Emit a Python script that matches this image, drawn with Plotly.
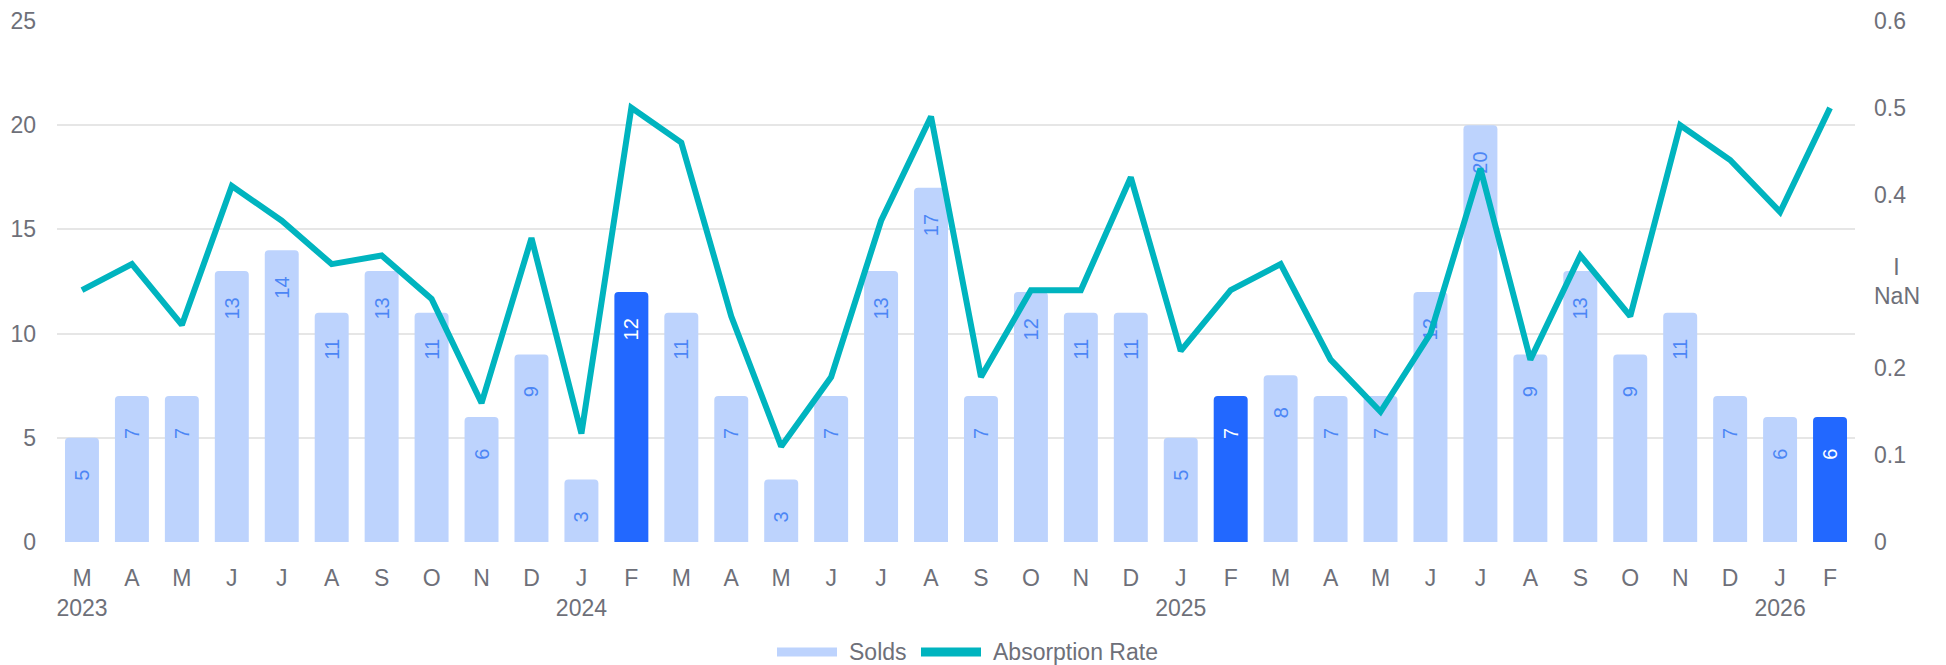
import plotly.graph_objects as go

# ---- data ----
month_letters = ["M", "A", "M", "J", "J", "A", "S", "O", "N", "D",
                 "J", "F", "M", "A", "M", "J", "J", "A", "S", "O", "N", "D",
                 "J", "F", "M", "A", "M", "J", "J", "A", "S", "O", "N", "D",
                 "J", "F"]
month_keys = ["2023-03", "2023-04", "2023-05", "2023-06", "2023-07", "2023-08",
              "2023-09", "2023-10", "2023-11", "2023-12", "2024-01", "2024-02",
              "2024-03", "2024-04", "2024-05", "2024-06", "2024-07", "2024-08",
              "2024-09", "2024-10", "2024-11", "2024-12", "2025-01", "2025-02",
              "2025-03", "2025-04", "2025-05", "2025-06", "2025-07", "2025-08",
              "2025-09", "2025-10", "2025-11", "2025-12", "2026-01", "2026-02"]
year_labels = {"2023-03": "2023", "2024-01": "2024", "2025-01": "2025", "2026-01": "2026"}

solds = [5, 7, 7, 13, 14, 11, 13, 11, 6, 9, 3, 12,
         11, 7, 3, 7, 13, 17, 7, 12, 11, 11, 5, 7,
         8, 7, 7, 12, 20, 9, 13, 9, 11, 7, 6, 6]
highlight = [k.endswith("-02") for k in month_keys]

absorption_rate = [0.29, 0.32, 0.25, 0.41, 0.37, 0.32, 0.33, 0.28, 0.16, 0.35, 0.125, 0.50,
                   0.46, 0.26, 0.11, 0.19, 0.37, 0.49, 0.19, 0.29, 0.29, 0.42, 0.22, 0.29,
                   0.32, 0.21, 0.15, 0.24, 0.43, 0.21, 0.33, 0.26, 0.48, 0.44, 0.38, 0.50]

left_ticks = [0, 5, 10, 15, 20, 25]
right_ticks = [0, 0.1, 0.2, 0.3, 0.4, 0.5, 0.6]
right_ticktext = ["0", "0.1", "0.2", "\u00a0\u00a0\u00a0I<br>NaN", "0.4", "0.5", "0.6"]

# ---- style ----
LIGHT = "#BDD3FD"
DARK = "#2268FF"
LABEL_LIGHT = "#4C86F5"
TEAL = "#00B4BF"
AXIS_TXT = "#6E7079"
FONT = "Liberation Sans, Arial, sans-serif"
NB = "\u00a0"

W, H = 1946, 665
ML, MR, MT, MB = 57, 91, 21, 123
PW, PH = W - ML - MR, H - MT - MB

bar_colors = [DARK if h else LIGHT for h in highlight]
text_colors = ["#FFFFFF" if h else LABEL_LIGHT for h in highlight]
bar_text = [f"{v}" + NB * (4 if v >= 10 else 5) for v in solds]

ticktext = [(f"{m}<br>{year_labels[k]}" if k in year_labels else m)
            for m, k in zip(month_letters, month_keys)]

fig = go.Figure()
fig.add_trace(go.Bar(
    x=month_keys, y=solds, name="Solds",
    marker=dict(color=bar_colors, line=dict(width=0)),
    text=bar_text, textposition="inside", insidetextanchor="end",
    textangle=-90, textfont=dict(family=FONT, size=20, color=text_colors),
    cliponaxis=False, showlegend=False, hoverinfo="x+y",
))
fig.add_trace(go.Scatter(
    x=month_keys, y=absorption_rate, name="Absorption Rate", yaxis="y2",
    mode="lines", line=dict(color=TEAL, width=6),
    showlegend=False,
))

fig.update_layout(
    width=W, height=H,
    margin=dict(l=ML, r=MR, t=MT, b=MB, pad=0),
    paper_bgcolor="white", plot_bgcolor="white",
    bargap=0.32, barcornerradius=4,
    font=dict(family=FONT, color=AXIS_TXT, size=23),
    xaxis=dict(
        type="category", tickvals=month_keys, ticktext=ticktext,
        showgrid=False, zeroline=False, showline=False, ticks="",
        ticklabelstandoff=20, tickfont=dict(size=23, color=AXIS_TXT),
        range=[-0.5, len(month_keys) - 0.5], automargin=False,
    ),
    yaxis=dict(
        range=[0, 25], tickvals=left_ticks, showgrid=True,
        gridcolor="#E6E6E6", gridwidth=2, zeroline=False, showline=False,
        ticks="", ticklabelstandoff=20, tickfont=dict(size=23, color=AXIS_TXT),
        automargin=False,
    ),
    yaxis2=dict(
        range=[0, 0.6], tickvals=right_ticks, ticktext=right_ticktext,
        overlaying="y", side="right", showgrid=False, zeroline=False,
        showline=False, ticks="", ticklabelstandoff=18,
        tickfont=dict(size=23, color=AXIS_TXT), automargin=False,
    ),
)

# ---- custom legend (bottom centre) ----
def px_x(px):
    return (px - ML) / PW

def px_y(py):
    return (H - MB - py) / PH

legend_y = 652
legend_items = [("Solds", LIGHT, 777), ("Absorption Rate", TEAL, 921)]
for label, color, x0 in legend_items:
    fig.add_shape(type="rect", xref="paper", yref="paper",
                  x0=px_x(x0), x1=px_x(x0 + 60),
                  y0=px_y(legend_y + 4.5), y1=px_y(legend_y - 4.5),
                  fillcolor=color, line=dict(width=0), layer="above")
    fig.add_annotation(text=label, xref="paper", yref="paper",
                       x=px_x(x0 + 70), y=px_y(legend_y), xanchor="left",
                       yanchor="middle", showarrow=False,
                       font=dict(family=FONT, size=23, color=AXIS_TXT))

fig.write_html(
    "out.html",
    config={"displayModeBar": False},
    post_script="document.body.style.margin='0';document.body.style.overflow='hidden';",
)
